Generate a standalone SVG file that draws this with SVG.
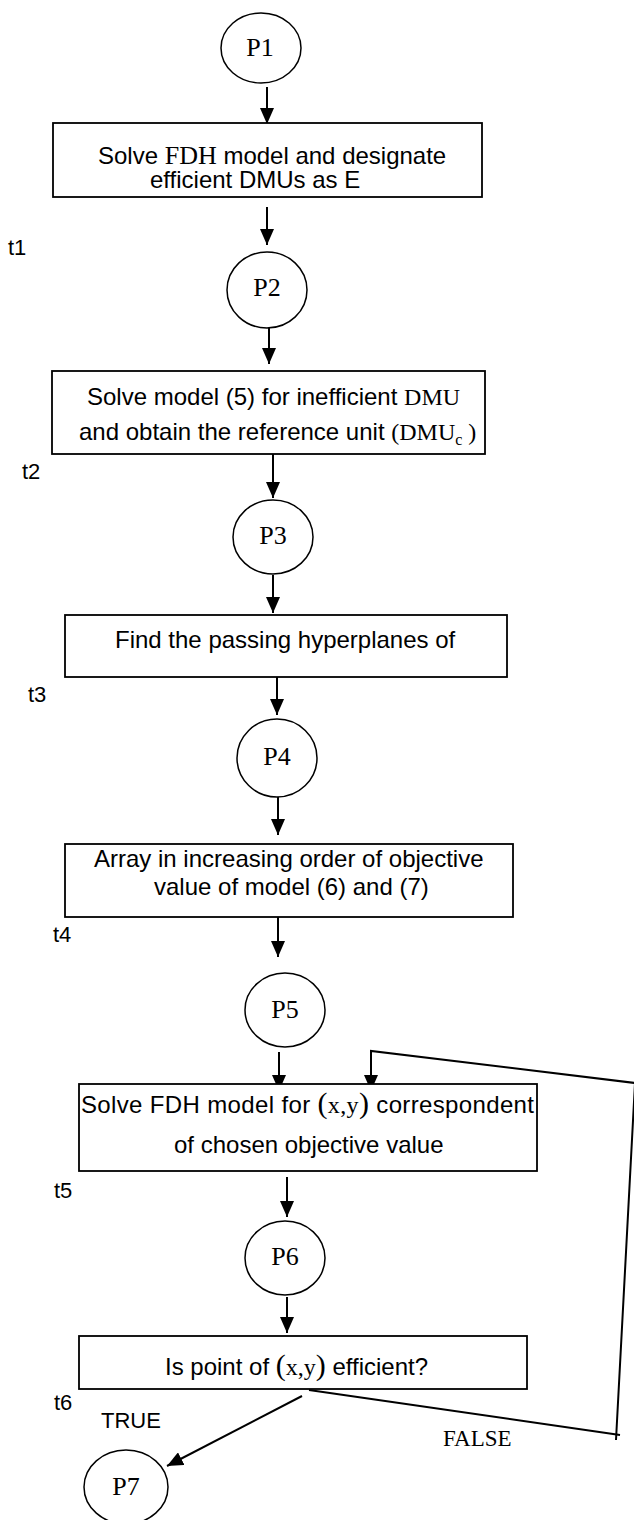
<svg xmlns="http://www.w3.org/2000/svg" width="634" height="1520" viewBox="0 0 634 1520">
<defs>
<marker id="ah" markerUnits="userSpaceOnUse" markerWidth="16" markerHeight="14" refX="16" refY="7" orient="auto">
<path d="M0,0 L16,7 L0,14 z" fill="#000"/>
</marker>
<style>
.box{fill:#fff;stroke:#000;stroke-width:1.8}
.pl{fill:#fff;stroke:#000;stroke-width:1.5}
.c{fill:none;stroke:#000;stroke-width:2}
.a{fill:none;stroke:#000;stroke-width:2;marker-end:url(#ah)}
.s{font-family:"Liberation Sans",Arial,sans-serif;font-size:24px;fill:#000}
.m{font-family:"Liberation Serif","Times New Roman",serif;fill:#000}
.p{font-family:"Liberation Serif","Times New Roman",serif;font-size:26px;fill:#000;text-anchor:middle}
.t{font-family:"Liberation Sans",Arial,sans-serif;font-size:22px;fill:#000}
</style>
</defs>
<rect width="634" height="1520" fill="#fff"/>

<g id="connectors">
<line class="a" x1="267" y1="87" x2="267" y2="124"/>
<line class="a" x1="267" y1="207" x2="267" y2="245"/>
<line class="a" x1="269" y1="327" x2="269" y2="364"/>
<line class="a" x1="273" y1="454" x2="273" y2="498"/>
<line class="a" x1="273" y1="575" x2="273" y2="613"/>
<line class="a" x1="277" y1="677" x2="277" y2="715"/>
<line class="a" x1="278" y1="797" x2="278" y2="835"/>
<line class="a" x1="278" y1="917" x2="278" y2="957"/>
<line class="a" x1="279" y1="1052" x2="279" y2="1091"/>
<line class="a" x1="287" y1="1177" x2="287" y2="1217"/>
<line class="a" x1="287" y1="1297" x2="287" y2="1333"/>
<line class="a" x1="302" y1="1396" x2="167" y2="1466"/>
<polyline class="c" points="309,1390 620,1435"/>
<polyline class="a" points="616,1440 635,1083 371,1051 371,1091"/>
</g>

<g id="P1"><ellipse class="pl" cx="261" cy="48" rx="40" ry="35"/><text class="p" x="260" y="56">P1</text></g>
<g id="t1-box"><rect class="box" x="53" y="123" width="429" height="74"/>
<text class="s" x="98" y="164">Solve <tspan class="m" font-size="26">FDH</tspan>  model and designate</text>
<text class="s" x="150" y="188">efficient DMUs as E</text></g>
<g id="t1"><text class="t" x="8" y="255">t1</text></g>

<g id="P2"><ellipse class="pl" cx="267" cy="290" rx="40" ry="38"/><text class="p" x="267" y="296">P2</text></g>
<g id="t2-box"><rect class="box" x="52" y="371" width="433" height="83"/>
<text class="s" x="87" y="405">Solve model (5) for inefficient <tspan class="m">DMU</tspan></text>
<text class="s" x="79" y="440">and obtain the reference unit <tspan class="m">(</tspan><tspan class="m">DMU</tspan><tspan class="m" font-size="16" dy="5">c</tspan><tspan class="m" dy="-5"> )</tspan></text></g>
<g id="t2"><text class="t" x="22" y="479">t2</text></g>

<g id="P3"><ellipse class="pl" cx="273" cy="537" rx="40" ry="37"/><text class="p" x="273" y="544">P3</text></g>
<g id="t3-box"><rect class="box" x="65" y="615" width="442" height="62"/>
<text class="s" x="115" y="648">Find the passing hyperplanes of</text></g>
<g id="t3"><text class="t" x="28" y="702">t3</text></g>

<g id="P4"><ellipse class="pl" cx="277" cy="758" rx="40" ry="39"/><text class="p" x="277" y="765">P4</text></g>
<g id="t4-box"><rect class="box" x="65" y="844" width="448" height="73"/>
<text class="s" x="94" y="867">Array in increasing order of objective</text>
<text class="s" x="154" y="895">value of model (6) and (7)</text></g>
<g id="t4"><text class="t" x="53" y="942">t4</text></g>

<g id="P5"><ellipse class="pl" cx="285" cy="1010" rx="40" ry="37"/><text class="p" x="285" y="1018">P5</text></g>
<g id="t5-box"><rect class="box" x="79" y="1084" width="458" height="87"/>
<text class="s" x="81" y="1113" textLength="453" lengthAdjust="spacing">Solve FDH model for <tspan class="m" font-size="30">(</tspan><tspan class="m">x,y</tspan><tspan class="m" font-size="30">)</tspan> correspondent</text>
<text class="s" x="174" y="1153">of chosen objective value</text></g>
<g id="t5"><text class="t" x="54" y="1198">t5</text></g>

<g id="P6"><ellipse class="pl" cx="285" cy="1258" rx="40" ry="37"/><text class="p" x="285" y="1265">P6</text></g>
<g id="t6-box"><rect class="box" x="79" y="1336" width="448" height="53"/>
<text class="s" x="165" y="1375">Is point of <tspan class="m" font-size="30">(</tspan><tspan class="m">x,y</tspan><tspan class="m" font-size="30">)</tspan> efficient?</text></g>
<g id="t6"><text class="t" x="54" y="1410">t6</text></g>

<g id="labels">
<text class="t" x="101" y="1428">TRUE</text>
<text class="m" font-size="23" x="443" y="1446">FALSE</text>
</g>

<g id="P7"><ellipse class="pl" cx="126" cy="1487" rx="42" ry="37"/><text class="p" x="126" y="1495">P7</text></g>
</svg>
